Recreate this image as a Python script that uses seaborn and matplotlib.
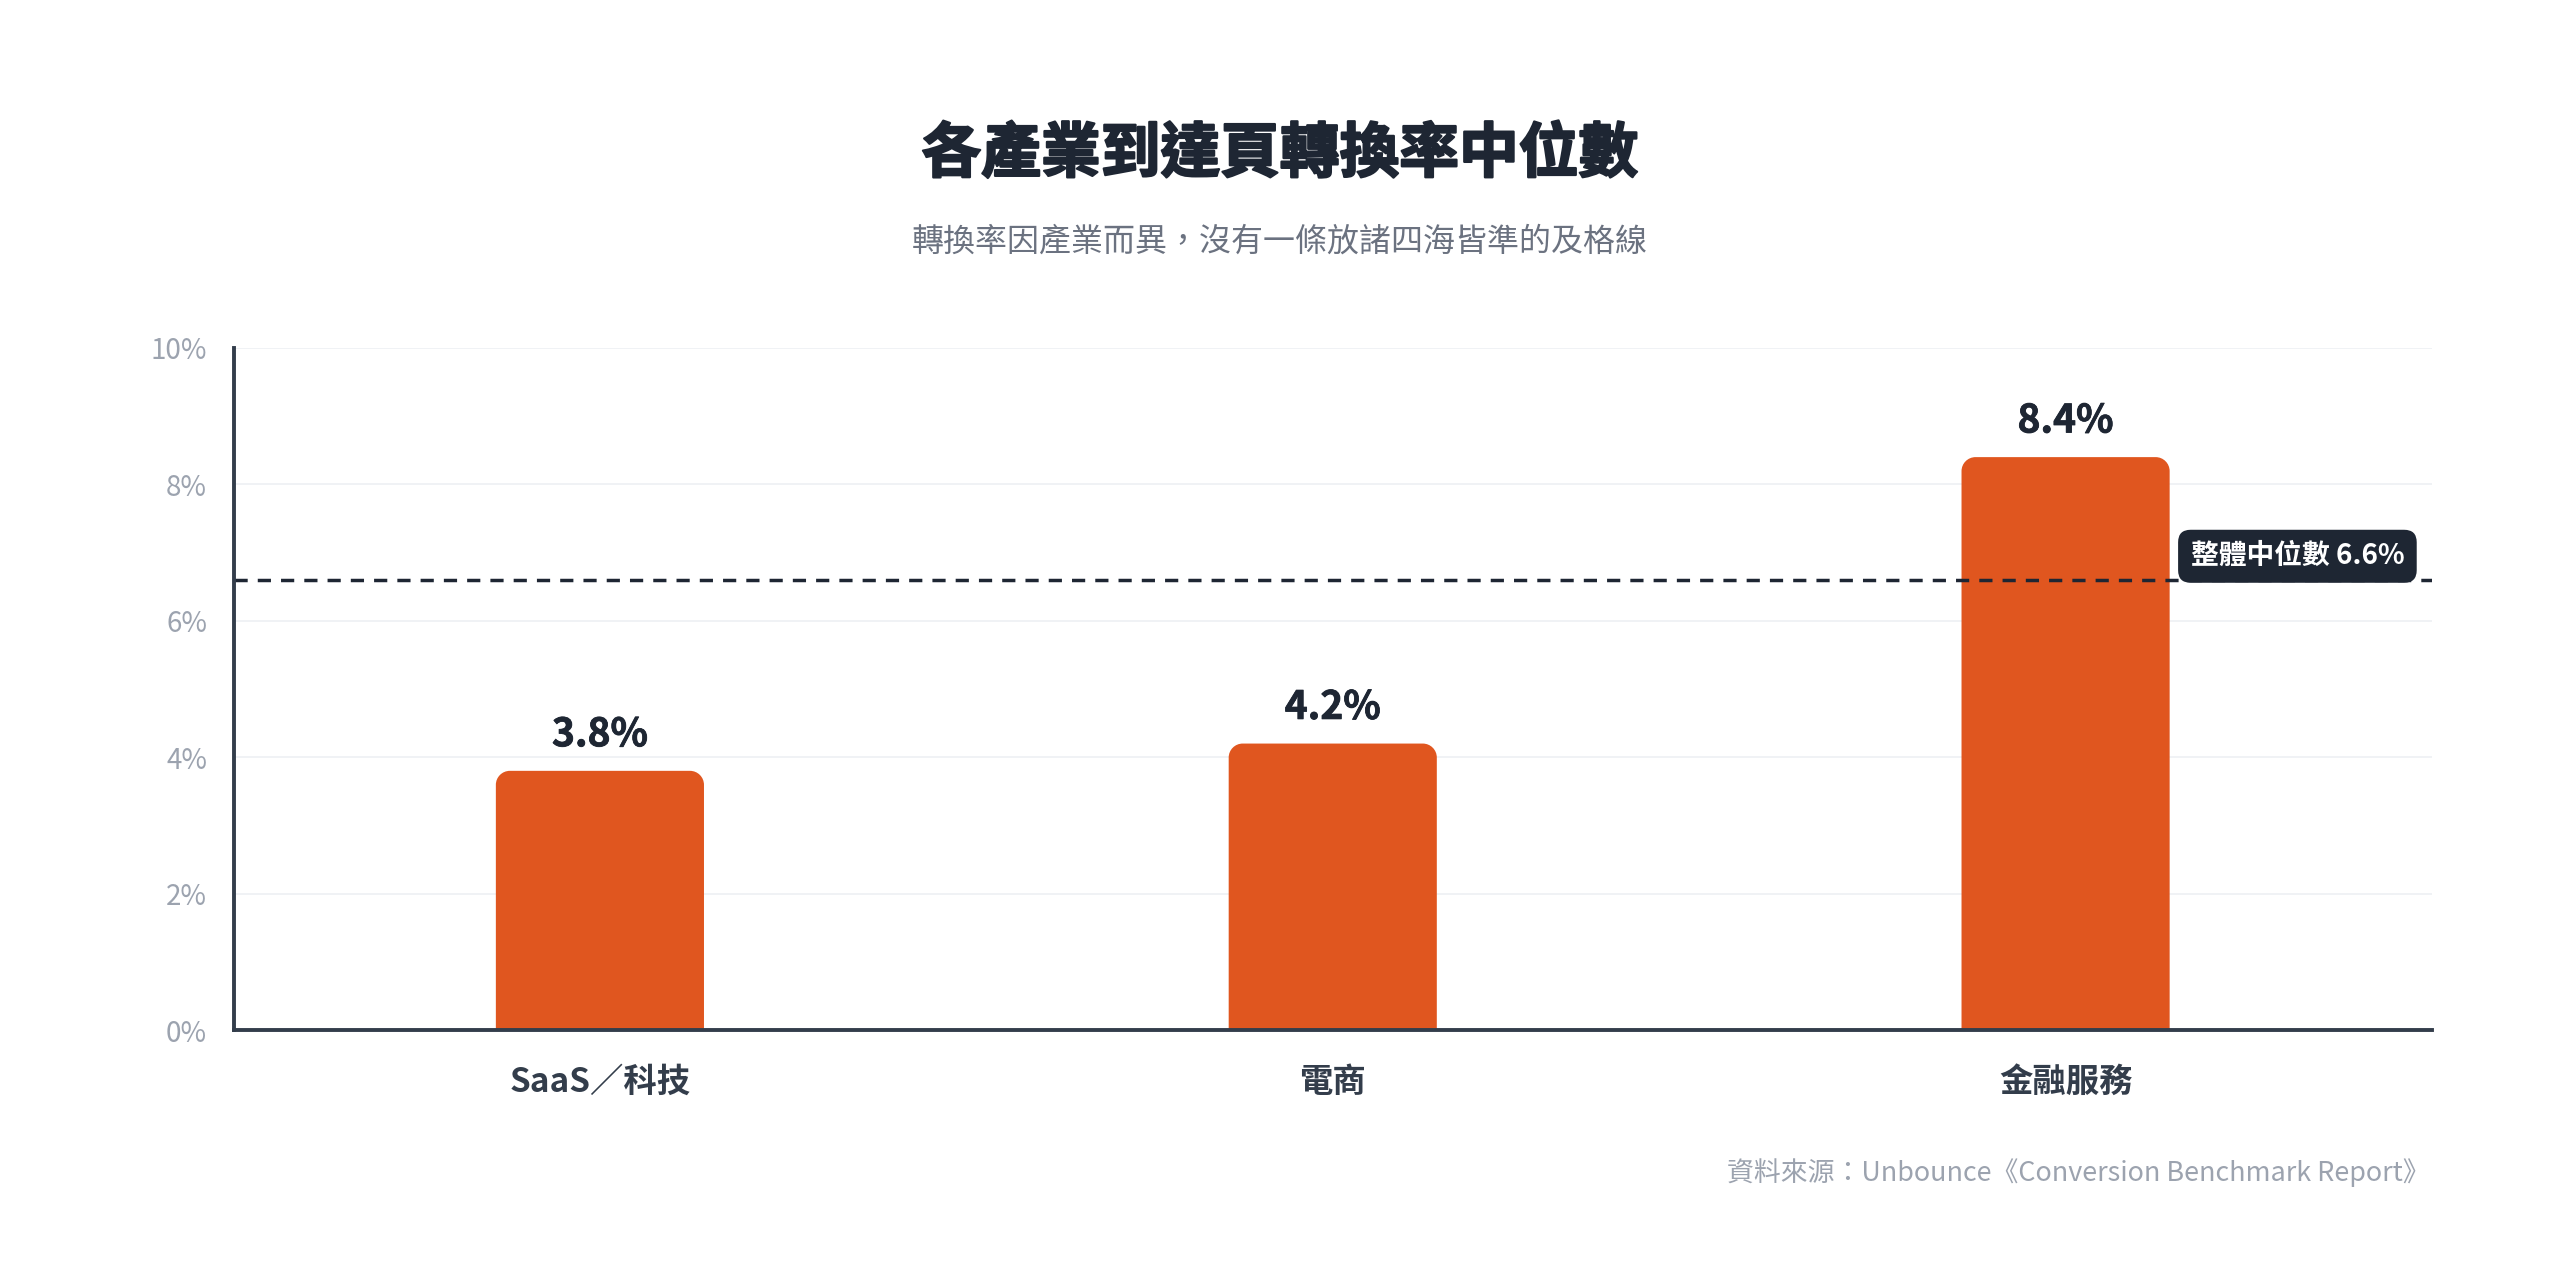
import matplotlib
matplotlib.use("Agg")
import matplotlib.pyplot as plt
import matplotlib.patheffects as pe
import seaborn as sns
import pandas as pd
from matplotlib.path import Path
from matplotlib.patches import PathPatch

# ---- data ----
categories = ["SaaS／科技", "電商", "金融服務"]
rates = [3.8, 4.2, 8.4]
median_rate = 6.6
y_ticks = [0, 2, 4, 6, 8, 10]
y_tick_labels = ["0%", "2%", "4%", "6%", "8%", "10%"]

title = "各產業到達頁轉換率中位數"
subtitle = "轉換率因產業而異，沒有一條放諸四海皆準的及格線"
source = "資料來源：Unbounce《Conversion Benchmark Report》"
median_label = "整體中位數 6.6%"

BAR = "#E0561F"
DARK = "#1E2633"
AXIS = "#333D4B"
GRID = "#EEF0F3"
TICK = "#9CA3AF"
SUB = "#6B7280"

sns.set_theme(style="white")
plt.rcParams["font.family"] = ["Noto Sans CJK TC", "DejaVu Sans"]

W, H = 2560, 1278
fig = plt.figure(figsize=(W / 100, H / 100), dpi=100)
fig.patch.set_facecolor("white")
left, right, bottom, top = 233.5 / W, 2432 / W, 1 - 1030 / H, 1 - 348 / H
ax = fig.add_axes([left, bottom, right - left, top - bottom])

df = pd.DataFrame({"category": categories, "rate": rates})
sns.barplot(data=df, x="category", y="rate", color=BAR, width=0.284,
            saturation=1, ax=ax, zorder=3)

ax.set_xlim(-0.5, len(categories) - 0.5)
ax.set_ylim(0, 10)
ax.set_yticks(y_ticks)
ax.set_yticklabels(y_tick_labels)
ax.set_xlabel("")
ax.set_ylabel("")

# grid
ax.yaxis.grid(True, color=GRID, linewidth=1.2, zorder=0)
ax.xaxis.grid(False)
ax.set_axisbelow(True)

for s in ["top", "right"]:
    ax.spines[s].set_visible(False)
for s in ["left", "bottom"]:
    ax.spines[s].set_color(AXIS)
    ax.spines[s].set_linewidth(2.8)
    ax.spines[s].set_zorder(5)

ax.tick_params(axis="y", length=0, pad=19, labelsize=20, labelcolor=TICK)
ax.tick_params(axis="x", length=0, pad=26, labelsize=24, labelcolor=AXIS)
for lab in ax.get_xticklabels():
    lab.set_fontweight("bold")

# rounded-top bars built from seaborn's bar geometry
fig.canvas.draw()
px_per_x = ax.transData.transform((1, 0))[0] - ax.transData.transform((0, 0))[0]
px_per_y = abs(ax.transData.transform((0, 0))[1] - ax.transData.transform((0, 1))[1])
r_px = 14
rx, ry = r_px / px_per_x, r_px / px_per_y
k = 0.5523
for p in list(ax.patches):
    x0, y0 = p.get_x(), p.get_y()
    w, h = p.get_width(), p.get_height()
    x1, y1 = x0 + w, y0 + h
    verts = [
        (x0, y0), (x0, y1 - ry),
        (x0, y1 - ry + k * ry), (x0 + rx - k * rx, y1), (x0 + rx, y1),
        (x1 - rx, y1),
        (x1 - rx + k * rx, y1), (x1, y1 - ry + k * ry), (x1, y1 - ry),
        (x1, y0), (x0, y0),
    ]
    codes = [Path.MOVETO, Path.LINETO,
             Path.CURVE4, Path.CURVE4, Path.CURVE4,
             Path.LINETO,
             Path.CURVE4, Path.CURVE4, Path.CURVE4,
             Path.LINETO, Path.CLOSEPOLY]
    p.set_visible(False)
    ax.add_patch(PathPatch(Path(verts, codes), facecolor=BAR, edgecolor="none", zorder=3))
    t = ax.annotate(f"{h:.1f}%", xy=(x0 + w / 2, y1), xytext=(0, 12),
                    textcoords="offset points", ha="center", va="bottom",
                    fontsize=28, fontweight="bold", color=DARK, zorder=6)
    t.set_path_effects([pe.withStroke(linewidth=0.6, foreground=DARK)])

# median line
ax.axhline(median_rate, color=DARK, linewidth=2.5, linestyle=(0, (3.8, 2.9)), zorder=4)
ax.annotate(median_label, xy=(1.0, median_rate), xycoords=ax.get_yaxis_transform(),
            xytext=(-20, 17), textcoords="offset points", ha="right", va="center",
            fontsize=20, fontweight="bold", color="white", zorder=7,
            bbox=dict(boxstyle="round,pad=0.45,rounding_size=0.45", fc=DARK, ec="none"))

# titles
tt = fig.text(0.5, 1 - 155 / H, title, ha="center", va="center", fontsize=43,
              fontweight="bold", color=DARK)
tt.set_path_effects([pe.withStroke(linewidth=1.6, foreground=DARK)])
fig.text(0.5, 1 - 242 / H, subtitle, ha="center", va="center", fontsize=23,
         color=SUB)
fig.text(2430 / W, 1 - 1173 / H, source, ha="right", va="center", fontsize=19.4,
         color=TICK)

fig.savefig("out.png", dpi=100, facecolor="white")
